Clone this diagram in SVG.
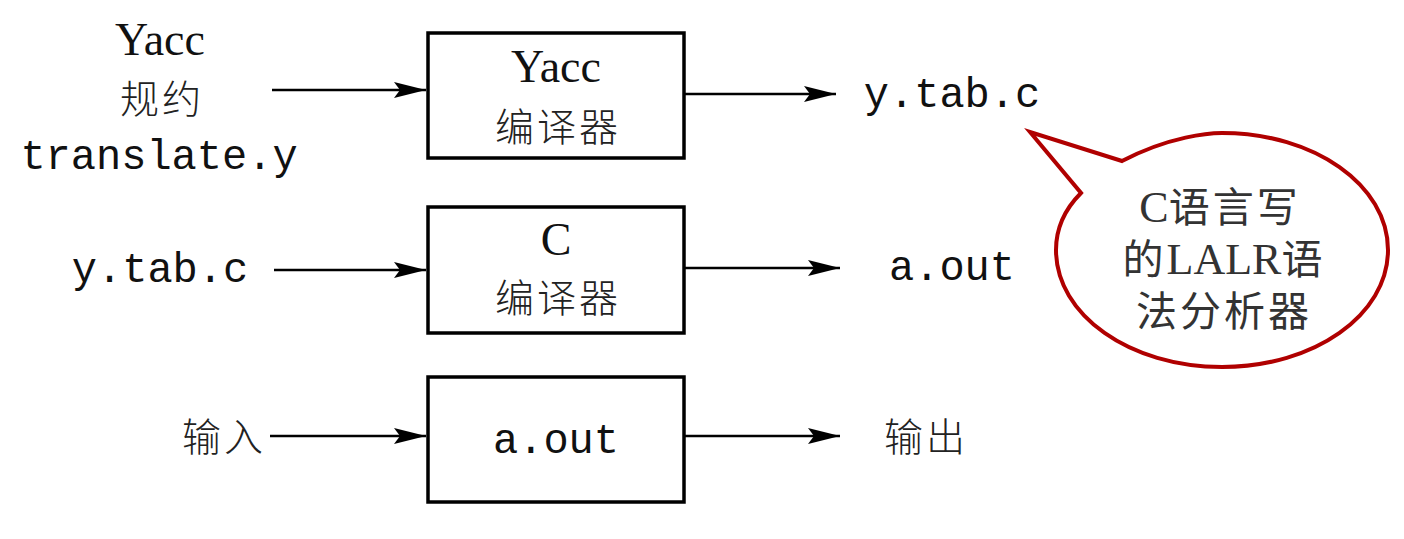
<svg xmlns="http://www.w3.org/2000/svg" width="1404" height="539" viewBox="0 0 1404 539">
<style>
.box{fill:#fff;stroke:#000;stroke-width:3.5}
.ln{stroke:#000;stroke-width:2.5;fill:none}
.serif{font-family:"Liberation Serif","Noto Sans CJK SC",serif;font-size:46px;fill:#111;text-anchor:middle}
.cjk{font-family:"Noto Sans CJK SC",sans-serif;font-size:39px;font-weight:300;fill:#222;text-anchor:middle;letter-spacing:3px}
.mono{font-family:"Liberation Mono",monospace;font-size:42px;fill:#111;text-anchor:middle}
.note{font-family:"Liberation Serif","Noto Sans CJK SC",serif;font-size:41px;fill:#333;text-anchor:middle;letter-spacing:3px}
.lat{letter-spacing:0;font-size:44px}
</style>
<defs>
<marker id="ah" markerUnits="userSpaceOnUse" markerWidth="34" markerHeight="20" refX="32" refY="10" orient="auto">
<path d="M0,2 L32,10 L0,18 L6,10 Z" fill="#000"/>
</marker>
</defs>
<g id="connectors">
<line class="ln" x1="272" y1="90" x2="426" y2="90" marker-end="url(#ah)"/>
<line class="ln" x1="684" y1="94" x2="836" y2="94" marker-end="url(#ah)"/>
<line class="ln" x1="274" y1="270" x2="426" y2="270" marker-end="url(#ah)"/>
<line class="ln" x1="684" y1="268" x2="840" y2="268" marker-end="url(#ah)"/>
<line class="ln" x1="270" y1="436" x2="426" y2="436" marker-end="url(#ah)"/>
<line class="ln" x1="684" y1="436" x2="840" y2="436" marker-end="url(#ah)"/>
</g>
<g id="input1">
<text class="serif" x="160" y="55">Yacc</text>
<text class="cjk" x="162" y="113">规约</text>
<text class="mono" x="159" y="169">translate.y</text>
</g>
<g id="yacc-compiler">
<rect class="box" x="428" y="33" width="256" height="125"/>
<text class="serif" x="556" y="82">Yacc</text>
<text class="cjk" x="558" y="141">编译器</text>
</g>
<g id="output1"><text class="mono" x="952" y="107">y.tab.c</text></g>
<g id="input2"><text class="mono" x="160" y="282">y.tab.c</text></g>
<g id="c-compiler">
<rect class="box" x="428" y="207" width="256" height="126"/>
<text class="serif" x="556" y="255">C</text>
<text class="cjk" x="558" y="312">编译器</text>
</g>
<g id="output2"><text class="mono" x="952" y="280">a.out</text></g>
<g id="input3"><text class="cjk" x="224" y="451">输入</text></g>
<g id="aout">
<rect class="box" x="428" y="377" width="256" height="125"/>
<text class="mono" x="556" y="453">a.out</text>
</g>
<g id="output3"><text class="cjk" x="926" y="451">输出</text></g>
<g id="callout">
<path d="M1122,161 C1170,136 1210,133 1222,133 C1314,133 1388,185 1388,250 C1388,315 1314,367 1222,367 C1130,367 1056,315 1056,250 C1056,228 1064,210 1081,193 L1030,132 Z" fill="#fff" stroke="#b00000" stroke-width="4" stroke-linejoin="miter"/>
<text class="note" x="1220" y="222"><tspan class="lat">C</tspan>语言写</text>
<text class="note" x="1224" y="274">的<tspan class="lat">LALR</tspan>语</text>
<text class="note" x="1224" y="326">法分析器</text>
</g>
</svg>
